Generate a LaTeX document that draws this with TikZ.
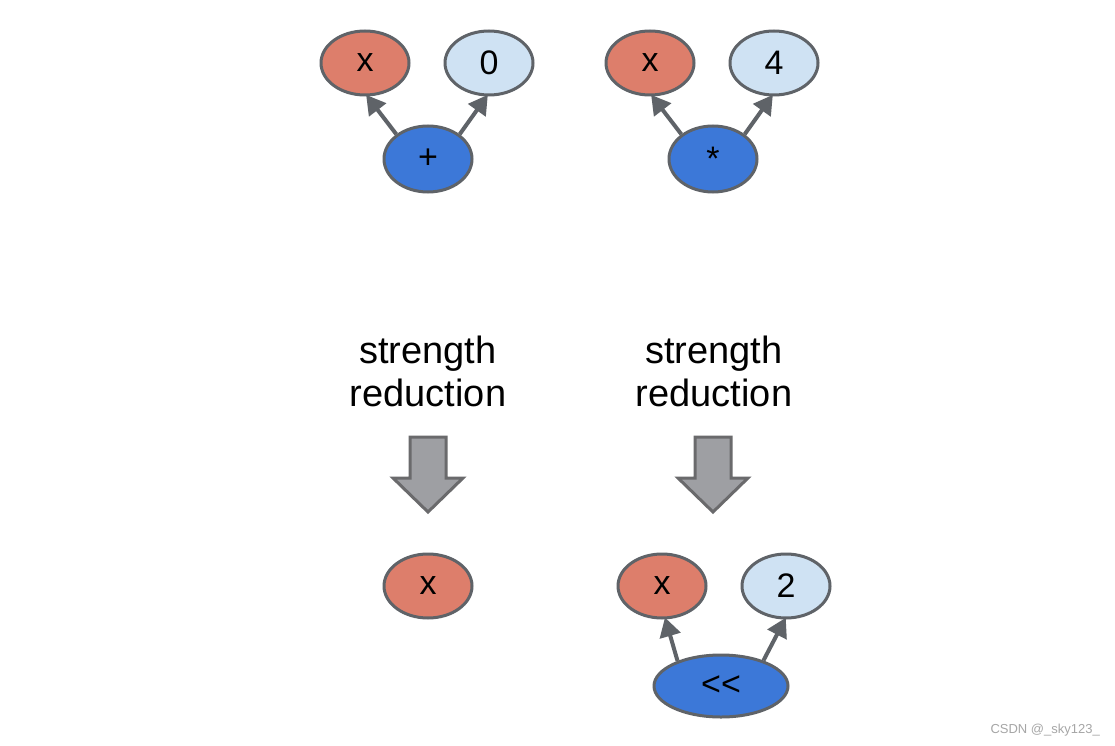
\documentclass[tikz,border=0pt]{standalone}
\usepackage{fontspec}
\setmainfont{Liberation Sans}
\usetikzlibrary{arrows.meta,shapes.geometric}
\definecolor{redfill}{HTML}{DD7E6B}
\definecolor{lbluefill}{HTML}{CFE2F3}
\definecolor{bluefill}{HTML}{3C78D8}
\definecolor{edgegray}{HTML}{5F6368}
\definecolor{blockfill}{HTML}{9E9FA3}
\definecolor{blockedge}{HTML}{6A6A6C}
\tikzset{
  ell/.style={ellipse, draw=edgegray, line width=3pt, minimum width=88pt, minimum height=64pt, inner sep=0pt, font=\fontsize{34}{38}\selectfont},
  redell/.style={ell, fill=redfill},
  lbell/.style={ell, fill=lbluefill},
  bell/.style={ell, fill=bluefill},
  conn/.style={draw=edgegray, line width=4pt, -{Triangle[length=19pt,width=21pt]}, shorten >=-2pt},
  label/.style={align=center, font=\fontsize{38}{43}\selectfont, inner sep=0pt},
  blockarrow/.style={fill=blockfill, draw=blockedge, line width=3pt, line join=miter},
  wm/.style={font=\fontsize{13}{15}\selectfont, text=gray!70, anchor=east, inner sep=0pt}
}
\begin{document}
\begin{tikzpicture}[x=1pt,y=-1pt]
\useasboundingbox (0,0) rectangle (1115,746);
\fill[white] (0,0) rectangle (1115,746);
% top left
\node[redell] (x1) at (365,63) {x};
\node[lbell] (z1) at (489,63) {0};
\node[bell, minimum height=66pt] (p1) at (428,159) {+};
\draw[conn] (p1.142) -- (x1.-86);
\draw[conn] (p1.38) -- (z1.-94);
% top right
\node[redell] (x2) at (650,63) {x};
\node[lbell] (f2) at (774,63) {4};
\node[bell, minimum height=66pt] (m2) at (713,159) {*};
\draw[conn] (m2.142) -- (x2.-86);
\draw[conn] (m2.38) -- (f2.-94);
% labels
\node[label] (l1) at (428,371) {strength\\reduction};
\node[label] (l2) at (714,371) {strength\\reduction};
% block arrows
\draw[blockarrow] (410,437) -- (446,437) -- (446,478) -- (463,478) -- (428,512) -- (393,478) -- (410,478) -- cycle;
\draw[blockarrow] (695,437) -- (731,437) -- (731,478) -- (748,478) -- (713,512) -- (678,478) -- (695,478) -- cycle;
% bottom left
\node[redell] (x3) at (428,586) {x};
% bottom right
\node[redell] (x4) at (662,586) {x};
\node[lbell] (t4) at (786,586) {2};
\node[bell, minimum width=134pt, minimum height=62pt] (s4) at (721,686) {\mbox{<}\mbox{<}};
\draw[conn] (s4.150) -- (x4.-84);
\draw[conn] (s4.31) -- (t4.-92);
% watermark
\node[wm] (wm) at (1100,730) {CSDN @\_sky123\_};
\end{tikzpicture}
\end{document}
